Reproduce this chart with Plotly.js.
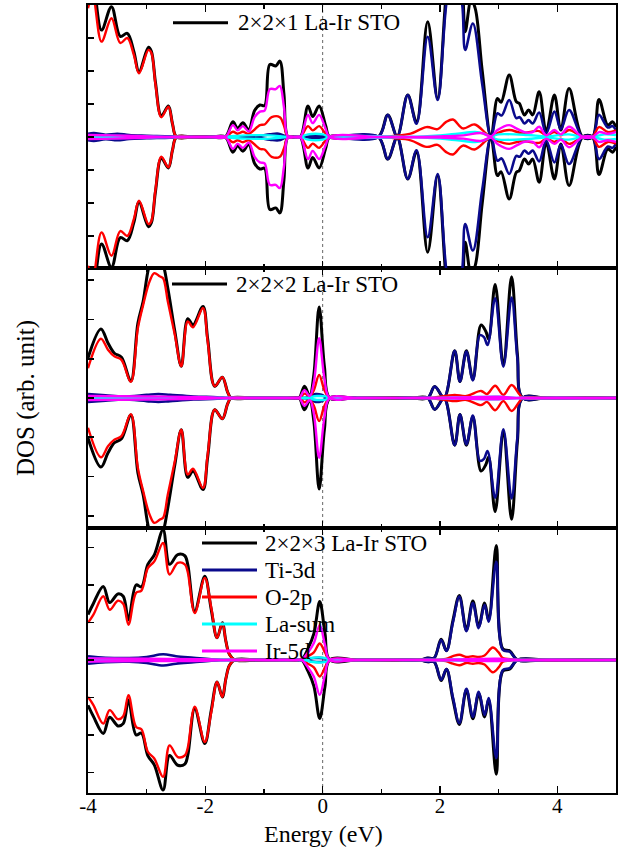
<!DOCTYPE html>
<html>
<head>
<meta charset="utf-8">
<script src="https://cdn.plot.ly/plotly-3.0.1.min.js"></script>
<style>html,body{margin:0;padding:0;background:#fff;}#chart{width:628px;height:849px;}</style>
</head>
<body>
<div id="chart"></div>
<script>
// ---------------- DATA (energy in eV, DOS in arb. units, spin-up values; spin-down drawn mirrored) ----------------
const panelLabels = ["2×2×1 La-Ir STO", "2×2×2 La-Ir STO", "2×2×3 La-Ir STO"];
const seriesNames = ["Total", "Ti-3d", "O-2p", "La-sum", "Ir-5d"];
const xTickVals = [-4, -2, 0, 2, 4];
const xTitle = "Energy (eV)";
const yTitle = "DOS (arb. unit)";

// ---- 2x2x1 ----
const tot1 = [[-4.0,4.2],[-3.92,4.7],[-3.77,3.24],[-3.6,3.95],[-3.45,3.05],[-3.33,3.14],[-3.22,2.6],[-3.13,1.98],[-2.97,2.72],[-2.92,2.6],[-2.85,1.65],[-2.75,0.64],[-2.63,0.94],[-2.56,0.4],[-2.49,0],[-2.2,0],[-1.9,0],[-1.66,0],[-1.53,0.46],[-1.45,0.26],[-1.36,0.43],[-1.26,0.22],[-1.16,0.8],[-1.07,0.97],[-0.99,0.95],[-0.9,2.2],[-0.8,2.15],[-0.73,2.3],[-0.66,1.3],[-0.59,0],[-0.48,0],[-0.38,0],[-0.25,0.94],[-0.17,0.62],[-0.06,0.94],[0.05,0.35],[0.12,0],[0.5,0],[0.95,0],[1.11,0.67],[1.27,0.02],[1.45,1.27],[1.6,0.45],[1.79,3.49],[1.96,1.17],[2.12,4.6],[2.26,6.0],[2.38,4.6],[2.43,3.19],[2.53,4.15],[2.6,3.9],[2.72,2.0],[2.87,0],[2.98,1.17],[3.04,1.05],[3.18,1.88],[3.3,1.07],[3.35,1.02],[3.44,0.67],[3.51,0.82],[3.58,0.67],[3.69,1.37],[3.81,0.16],[3.95,1.27],[4.06,0.21],[4.2,1.47],[4.43,0],[4.6,0],[4.71,1.14],[4.86,0.36],[4.94,0.46],[5.0,0.3]];
const ti1 = [[-4.0,0.1],[-3.9,0.12],[-3.7,0.07],[-3.5,0.1],[-3.3,0.06],[-3.0,0.04],[-2.6,0.02],[-2.4,0],[-1.2,0],[-0.9,0.08],[-0.75,0.1],[-0.6,0],[-0.3,0],[-0.15,0.04],[0.05,0.03],[0.2,0],[0.95,0],[1.11,0.67],[1.27,0.02],[1.45,1.27],[1.6,0.4],[1.79,3.04],[1.96,1.12],[2.12,4.2],[2.26,5.2],[2.38,4.0],[2.43,2.64],[2.56,3.44],[2.72,1.6],[2.87,0],[2.98,0.72],[3.05,0.65],[3.18,1.12],[3.3,0.57],[3.36,0.6],[3.44,0.41],[3.51,0.51],[3.58,0.41],[3.69,0.74],[3.81,0.11],[3.95,0.77],[4.06,0.24],[4.2,0.82],[4.43,0],[4.6,0],[4.71,0.67],[4.86,0.29],[4.94,0.33],[5.0,0.2]];
const o1 = [[-4.0,3.9],[-3.92,4.3],[-3.77,2.89],[-3.6,3.6],[-3.45,2.85],[-3.33,3.0],[-3.22,2.5],[-3.13,1.93],[-2.97,2.64],[-2.92,2.55],[-2.85,1.6],[-2.75,0.6],[-2.63,0.92],[-2.56,0.4],[-2.49,0],[-2.2,0],[-1.9,0],[-1.66,0],[-1.53,0.16],[-1.45,0.1],[-1.36,0.16],[-1.26,0.1],[-1.07,0.36],[-0.99,0.38],[-0.87,0.6],[-0.73,0.6],[-0.66,0.35],[-0.59,0],[-0.48,0],[-0.38,0],[-0.25,0.33],[-0.17,0.2],[-0.06,0.33],[0.05,0.1],[0.12,0],[0.6,0],[1.0,0],[1.2,0.03],[1.5,0.1],[1.77,0.3],[1.96,0.24],[2.1,0.45],[2.22,0.53],[2.39,0.26],[2.59,0.38],[2.79,0.1],[2.87,0],[2.98,0.12],[3.18,0.21],[3.4,0.12],[3.69,0.18],[3.81,0.05],[3.95,0.15],[4.06,0.05],[4.2,0.21],[4.43,0],[4.6,0],[4.71,0.3],[4.86,0.15],[5.0,0.2]];
const la1 = [[-4.0,0.04],[-3.5,0.03],[-3.0,0.02],[-2.5,0],[-1.8,0],[-1.6,0.02],[-1.3,0.05],[-0.9,0.05],[-0.6,0],[-0.45,0],[-0.35,0.02],[-0.25,0.08],[0.0,0.08],[0.12,0],[1.5,0],[2.0,0.05],[2.3,0.1],[2.6,0.15],[2.75,0.1],[2.87,0.02],[3.0,0.08],[3.5,0.06],[3.8,0.02],[4.2,0.08],[4.43,0],[4.6,0],[4.8,0.08],[5.0,0.06]];
const ir1 = [[-4.0,0.06],[-3.6,0.05],[-3.2,0.03],[-2.8,0.01],[-2.5,0],[-1.9,0],[-1.66,0],[-1.53,0.36],[-1.45,0.2],[-1.36,0.33],[-1.26,0.17],[-1.16,0.6],[-1.07,0.77],[-0.99,0.8],[-0.9,1.45],[-0.8,1.45],[-0.73,1.55],[-0.66,0.9],[-0.59,0],[-0.48,0],[-0.38,0],[-0.25,0.67],[-0.17,0.42],[-0.06,0.67],[0.05,0.25],[0.12,0],[1.0,0],[2.0,0.02],[2.4,0.05],[2.7,0.12],[2.87,0.02],[2.98,0.21],[3.18,0.36],[3.3,0.26],[3.44,0.15],[3.58,0.15],[3.69,0.31],[3.81,0.05],[3.95,0.21],[4.06,0.08],[4.2,0.31],[4.43,0],[4.6,0],[4.71,0.15],[4.86,0.1],[5.0,0.15]];

// ---- 2x2x2 ----
const tot2 = [[-4.0,1.02],[-3.78,1.76],[-3.66,1.4],[-3.55,1.14],[-3.43,1.04],[-3.27,0.43],[-3.15,1.9],[-3.06,2.46],[-2.95,3.4],[-2.87,3.6],[-2.78,3.55],[-2.72,3.4],[-2.64,2.8],[-2.52,1.7],[-2.41,0.81],[-2.3,2.02],[-2.21,1.86],[-2.04,2.33],[-1.96,1.5],[-1.84,0.3],[-1.71,0.53],[-1.62,0.15],[-1.56,0],[-1.2,0],[-0.8,0],[-0.48,0],[-0.4,0],[-0.31,0.3],[-0.22,0.05],[-0.15,0.6],[-0.06,2.32],[0.03,0.8],[0.12,0],[0.5,0],[1.0,0],[1.5,0],[1.79,0],[1.91,0.29],[2.07,0],[2.25,1.2],[2.34,0.42],[2.45,1.2],[2.56,0.48],[2.7,1.86],[2.78,1.7],[2.83,1.5],[2.94,2.89],[3.08,0.85],[3.22,3.09],[3.32,1.1],[3.41,0],[3.8,0],[4.4,0],[5.0,0]];
const ti2 = [[-4.0,0.1],[-3.7,0.07],[-3.4,0.04],[-3.0,0.08],[-2.8,0.1],[-2.6,0.08],[-2.2,0.04],[-1.8,0.02],[-1.6,0],[-0.6,0],[-0.3,0],[-0.12,0.1],[-0.02,0.08],[0.08,0],[0.6,0],[1.2,0],[1.6,0],[1.79,0],[1.91,0.29],[2.07,0.02],[2.25,1.2],[2.34,0.42],[2.45,1.18],[2.56,0.45],[2.68,1.6],[2.75,1.55],[2.81,1.35],[2.94,2.54],[3.08,0.8],[3.22,2.56],[3.32,1.0],[3.41,0],[3.8,0],[4.4,0],[5.0,0]];
const o2 = [[-4.0,0.76],[-3.78,1.51],[-3.66,1.23],[-3.55,1.06],[-3.43,0.97],[-3.27,0.41],[-3.15,1.78],[-3.06,2.37],[-2.95,2.97],[-2.87,3.18],[-2.78,3.1],[-2.72,3.05],[-2.64,2.46],[-2.52,1.61],[-2.41,0.81],[-2.3,1.95],[-2.21,1.8],[-2.04,2.29],[-1.96,1.44],[-1.84,0.3],[-1.71,0.53],[-1.62,0.15],[-1.56,0],[-1.2,0],[-0.8,0],[-0.48,0],[-0.4,0],[-0.31,0.11],[-0.22,0.05],[-0.15,0.2],[-0.06,0.59],[0.03,0.2],[0.12,0],[0.6,0],[1.2,0],[1.8,0],[2.1,0.05],[2.25,0.08],[2.45,0.05],[2.7,0.18],[2.8,0.1],[2.94,0.31],[3.08,0.08],[3.22,0.33],[3.35,0.1],[3.41,0],[3.8,0],[4.4,0],[5.0,0]];
const la2 = [[-4.0,0.03],[-3.0,0.02],[-2.0,0.01],[-1.6,0],[-0.6,0],[-0.3,0],[-0.1,0.05],[0.05,0.04],[0.12,0],[0.6,0],[1.8,0],[2.5,0.02],[3.0,0.03],[3.4,0],[5.0,0]];
const ir2 = [[-4.0,0.05],[-3.0,0.04],[-2.0,0.02],[-1.6,0],[-1.0,0],[-0.48,0],[-0.4,0],[-0.31,0.2],[-0.22,0.05],[-0.15,0.4],[-0.06,1.52],[0.03,0.5],[0.12,0],[0.6,0],[1.8,0],[2.5,0.02],[3.0,0.03],[3.4,0],[5.0,0]];

// ---- 2x2x3 ----
const tot3 = [[-4.0,1.21],[-3.91,1.5],[-3.74,1.96],[-3.63,1.53],[-3.49,1.76],[-3.4,1.7],[-3.31,1.07],[-3.18,2.0],[-3.09,1.95],[-2.98,2.55],[-2.87,2.8],[-2.72,3.47],[-2.61,2.55],[-2.47,2.81],[-2.35,2.78],[-2.3,2.55],[-2.18,1.3],[-2.01,2.23],[-1.9,1.35],[-1.8,0.59],[-1.71,0.99],[-1.65,0.5],[-1.59,0.15],[-1.5,0],[-1.1,0],[-0.7,0],[-0.45,0],[-0.36,0],[-0.25,0.3],[-0.15,0.7],[-0.05,1.56],[0.04,0.7],[0.12,0],[0.6,0],[1.2,0],[1.65,0],[1.79,0.05],[1.9,0.05],[2.02,0.55],[2.11,0.25],[2.22,1.05],[2.33,1.72],[2.45,0.8],[2.56,1.57],[2.66,0.9],[2.76,1.52],[2.83,1.07],[2.96,3.05],[3.07,0.3],[3.19,0.24],[3.32,0],[3.8,0],[4.4,0],[5.0,0]];
const ti3 = [[-4.0,0.1],[-3.7,0.06],[-3.3,0.05],[-3.0,0.08],[-2.72,0.15],[-2.5,0.1],[-2.2,0.06],[-1.9,0.02],[-1.6,0],[-0.6,0],[-0.3,0],[-0.15,0.05],[0.05,0.04],[0.12,0],[0.6,0],[1.2,0],[1.65,0],[1.79,0.05],[1.9,0.05],[2.02,0.53],[2.11,0.24],[2.22,1.0],[2.33,1.69],[2.45,0.77],[2.56,1.52],[2.66,0.85],[2.76,1.47],[2.83,1.02],[2.96,2.62],[3.07,0.27],[3.19,0.22],[3.32,0],[3.8,0],[4.4,0],[5.0,0]];
const o3 = [[-4.0,0.99],[-3.91,1.2],[-3.74,1.7],[-3.63,1.34],[-3.49,1.58],[-3.4,1.5],[-3.31,0.94],[-3.18,1.79],[-3.09,1.85],[-2.98,2.45],[-2.87,2.63],[-2.72,3.12],[-2.61,2.28],[-2.47,2.59],[-2.35,2.55],[-2.3,2.35],[-2.18,1.25],[-2.01,2.19],[-1.9,1.4],[-1.8,0.59],[-1.71,0.99],[-1.65,0.5],[-1.59,0.15],[-1.5,0],[-1.1,0],[-0.7,0],[-0.45,0],[-0.36,0],[-0.25,0.1],[-0.15,0.2],[-0.05,0.44],[0.04,0.2],[0.12,0],[0.6,0],[1.2,0],[1.9,0],[2.1,0.03],[2.22,0.1],[2.33,0.14],[2.45,0.08],[2.56,0.1],[2.66,0.08],[2.76,0.12],[2.9,0.33],[3.0,0.2],[3.07,0.05],[3.2,0.02],[3.3,0],[3.8,0],[4.4,0],[5.0,0]];
const la3 = [[-4.0,0.03],[-3.0,0.02],[-2.0,0.01],[-1.6,0],[-0.6,0],[-0.3,0],[-0.2,0.05],[0.05,0.05],[0.12,0],[0.6,0],[1.8,0],[2.5,0.02],[3.0,0.02],[3.3,0],[5.0,0]];
const ir3 = [[-4.0,0.04],[-3.0,0.03],[-2.0,0.02],[-1.6,0],[-1.0,0],[-0.45,0],[-0.36,0],[-0.25,0.2],[-0.15,0.45],[-0.05,0.93],[0.04,0.4],[0.12,0],[0.6,0],[1.8,0],[2.5,0.02],[3.0,0.03],[3.3,0],[5.0,0]];

// ---------------- STYLE ----------------
const colors = ["#000000", "#0a0a8c", "#ff0000", "#00ffff", "#ff00ff"];
const widths = [3, 2.6, 2.4, 2.4, 2.4];
const serif = "Liberation Serif, Times New Roman, serif";

const panels = [
  {series: [tot3, ti3, o3, la3, ir3], xa: "x", ya: "y"},
  {series: [tot2, ti2, o2, la2, ir2], xa: "x2", ya: "y2"},
  {series: [tot1, ti1, o1, la1, ir1], xa: "x3", ya: "y3"}
];

const traces = [];
panels.forEach(p => {
  p.series.forEach((s, i) => {
    const xs = s.map(d => d[0]);
    [1, -1].forEach(sign => {
      traces.push({
        type: "scatter", mode: "lines",
        x: xs, y: s.map(d => sign * d[1]),
        xaxis: p.xa, yaxis: p.ya,
        name: seriesNames[i] + (sign > 0 ? " ↑" : " ↓"),
        showlegend: false, hoverinfo: "skip",
        line: {color: colors[i], width: widths[i], shape: "spline", smoothing: 1}
      });
    });
  });
});

// pixel helpers for layout (plot area: x 88..616, y 5..793)
const L = 88, R = 616, T = 5, B = 793;
const px = v => (v - L) / (R - L);
const py = v => (B - v) / (B - T);

const xBase = {
  range: [-4, 5], tick0: -4, dtick: 2, ticks: "inside", ticklen: 7, tickwidth: 1.6, tickcolor: "#000",
  minor: {ticks: "inside", ticklen: 4, tickwidth: 1.4, dtick: 1, tick0: -4, tickcolor: "#000"},
  showline: true, linewidth: 2, linecolor: "#000", mirror: "ticks",
  showgrid: false, zeroline: false, fixedrange: true
};
const yBase = {
  dtick: 1, tick0: 0, ticks: "inside", ticklen: 6, tickwidth: 1.6, tickcolor: "#000",
  showticklabels: false, showline: true, linewidth: 2, linecolor: "#000", mirror: true,
  showgrid: false, zeroline: false, fixedrange: true
};

const d1 = (B - 268) / (B - T), d2 = (B - 528) / (B - T);

const layout = {
  width: 628, height: 849,
  margin: {l: L, r: 628 - R, t: T, b: 849 - B},
  paper_bgcolor: "#fff", plot_bgcolor: "#fff",
  font: {family: serif, color: "#000"},
  showlegend: false,
  xaxis: Object.assign({}, xBase, {anchor: "y", tickvals: xTickVals, ticktext: xTickVals.map(String), tickmode: "array",
    tickfont: {family: serif, size: 21, color: "#000"}, ticklabelstandoff: -7}),
  xaxis2: Object.assign({}, xBase, {anchor: "y2", matches: "x", showticklabels: false}),
  xaxis3: Object.assign({}, xBase, {anchor: "y3", matches: "x", showticklabels: false}),
  yaxis: Object.assign({}, yBase, {domain: [0, d2], range: [-3.55, 3.52]}),
  yaxis2: Object.assign({}, yBase, {domain: [d2, d1], range: [-3.31, 3.31],
    title: {text: yTitle, font: {family: serif, size: 25, color: "#000"}, standoff: 44}}),
  yaxis3: Object.assign({}, yBase, {domain: [d1, 1], range: [-3.97, 4.0]}),
  shapes: [
    {type: "line", xref: "x", yref: "paper", x0: 0, x1: 0, y0: 0, y1: 1, layer: "below",
     line: {color: "#666", width: 1, dash: "dot"}}
  ],
  annotations: [
    // x-axis title, centred under E = 0 as in the original figure
    {xref: "paper", yref: "paper", x: px(323), y: py(834), xanchor: "center", yanchor: "middle",
     showarrow: false, text: xTitle, font: {family: serif, size: 24, color: "#000"}}
  ]
};

// legend entries (drawn as line segments + text)
const legendItems = [
  {y: 22.7, x0: 173, x1: 228, tx: 236, text: panelLabels[0], color: colors[0]},
  {y: 284, x0: 172, x1: 227, tx: 234, text: panelLabels[1], color: colors[0]},
  {y: 543, x0: 202, x1: 257, tx: 263, text: panelLabels[2], color: colors[0]},
  {y: 570, x0: 202, x1: 257, tx: 263, text: seriesNames[1], color: colors[1]},
  {y: 597, x0: 202, x1: 257, tx: 263, text: seriesNames[2], color: colors[2]},
  {y: 624, x0: 202, x1: 257, tx: 263, text: seriesNames[3], color: colors[3]},
  {y: 651, x0: 202, x1: 257, tx: 263, text: seriesNames[4], color: colors[4]}
];
legendItems.forEach(it => {
  layout.shapes.push({type: "line", xref: "paper", yref: "paper",
    x0: px(it.x0), x1: px(it.x1), y0: py(it.y), y1: py(it.y),
    line: {color: it.color, width: 3}});
  layout.annotations.push({xref: "paper", yref: "paper", x: px(it.tx), y: py(it.y),
    xanchor: "left", yanchor: "middle", showarrow: false, text: it.text,
    font: {family: serif, size: 23, color: "#000"}});
});

Plotly.newPlot("chart", traces, layout, {staticPlot: true, displayModeBar: false});
</script>
</body>
</html>
